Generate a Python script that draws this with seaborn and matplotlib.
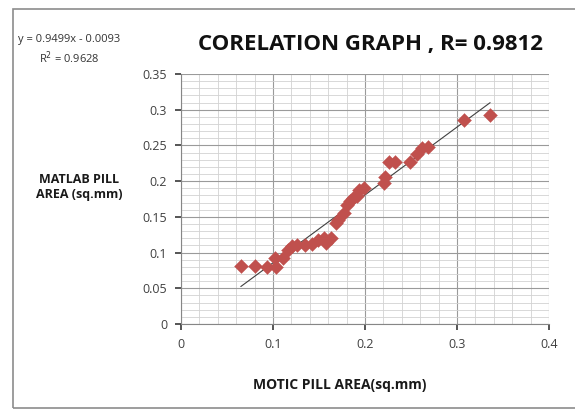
import numpy as np
import pandas as pd
import matplotlib
matplotlib.use("Agg")
import matplotlib.pyplot as plt
import seaborn as sns
from matplotlib.ticker import MultipleLocator
from matplotlib.patches import Rectangle

# --- Data ---
motic_area = [0.065, 0.080, 0.093, 0.103, 0.102, 0.111, 0.116, 0.121, 0.126, 0.135,
              0.142, 0.149, 0.155, 0.158, 0.163, 0.168, 0.171, 0.177, 0.180, 0.184,
              0.187, 0.191, 0.193, 0.199, 0.221, 0.222, 0.226, 0.233, 0.249, 0.257,
              0.262, 0.269, 0.308, 0.336]
matlab_area = [0.081, 0.081, 0.080, 0.080, 0.092, 0.092, 0.103, 0.109, 0.110, 0.110,
               0.112, 0.117, 0.120, 0.114, 0.121, 0.142, 0.145, 0.155, 0.166, 0.172,
               0.177, 0.179, 0.187, 0.190, 0.197, 0.206, 0.227, 0.227, 0.227, 0.238,
               0.247, 0.248, 0.285, 0.293]

# trendline from the equation shown on the chart
slope = 0.9499
intercept = -0.0093

df = pd.DataFrame({"motic": motic_area, "matlab": matlab_area})

sns.set_theme(style="white")
plt.rcParams["font.family"] = ["Open Sans", "DejaVu Sans"]

fig = plt.figure(figsize=(5.75, 4.12), dpi=100)
ax = fig.add_axes([0.3148, 0.2136, 0.640, 0.6068])

# grid like Excel
ax.xaxis.set_major_locator(MultipleLocator(0.1))
ax.xaxis.set_minor_locator(MultipleLocator(0.02))
ax.yaxis.set_major_locator(MultipleLocator(0.05))
ax.yaxis.set_minor_locator(MultipleLocator(0.01))
ax.grid(which="major", color="#9a9a9a", linewidth=0.8)
ax.grid(which="minor", color="#d2d2d2", linewidth=0.6)
ax.set_axisbelow(True)

# trendline
xs = np.array([min(motic_area), max(motic_area)])
ax.plot(xs, slope * xs + intercept, color="#404040", linewidth=0.8, zorder=2)

sns.scatterplot(data=df, x="motic", y="matlab", marker="D", s=50,
                color="#C0504D", edgecolor="#C0504D", linewidth=0.3, ax=ax, zorder=3)

ax.set_xlim(0, 0.4)
ax.set_ylim(0, 0.35)
ax.set_xticks([0, 0.1, 0.2, 0.3, 0.4])
ax.set_xticklabels(["0", "0.1", "0.2", "0.3", "0.4"])
ax.set_yticks([0, 0.05, 0.1, 0.15, 0.2, 0.25, 0.3, 0.35])
ax.set_yticklabels(["0", "0.05", "0.1", "0.15", "0.2", "0.25", "0.3", "0.35"])
ax.tick_params(axis="both", which="major", labelsize=9, colors="#404040",
               length=4, direction="out", left=True, bottom=True, pad=6)
for s in ["top", "right"]:
    ax.spines[s].set_visible(False)
for s in ["left", "bottom"]:
    ax.spines[s].set_color("#868686")
    ax.spines[s].set_linewidth(0.8)

ax.set_xlabel("")
ax.set_ylabel("")

fig.text(0.59, 0.065, "MOTIC PILL AREA(sq.mm)", ha="center", va="center",
         fontsize=10, fontweight="bold", color="#1a1a1a")
fig.text(0.138, 0.545, "MATLAB PILL\nAREA (sq.mm)", ha="center", va="center",
         fontsize=9, fontweight="bold", color="#1a1a1a", linespacing=1.2)

fig.text(0.645, 0.893, "CORELATION GRAPH , R= 0.9812", ha="center", va="center",
         fontsize=16, fontweight="bold", color="#111111")
fig.text(0.12, 0.903, "y = 0.9499x - 0.0093", ha="center", va="center",
         fontsize=8, color="#333333")
fig.text(0.12, 0.861, "R$^2$ = 0.9628", ha="center", va="center",
         fontsize=8, color="#333333")

# chart border
fig.patches.append(Rectangle((0.023, 0.01), 1.0, 0.968, transform=fig.transFigure,
                             fill=False, edgecolor="#8c8c8c", linewidth=1.2))

fig.savefig("out.png", dpi=100)
